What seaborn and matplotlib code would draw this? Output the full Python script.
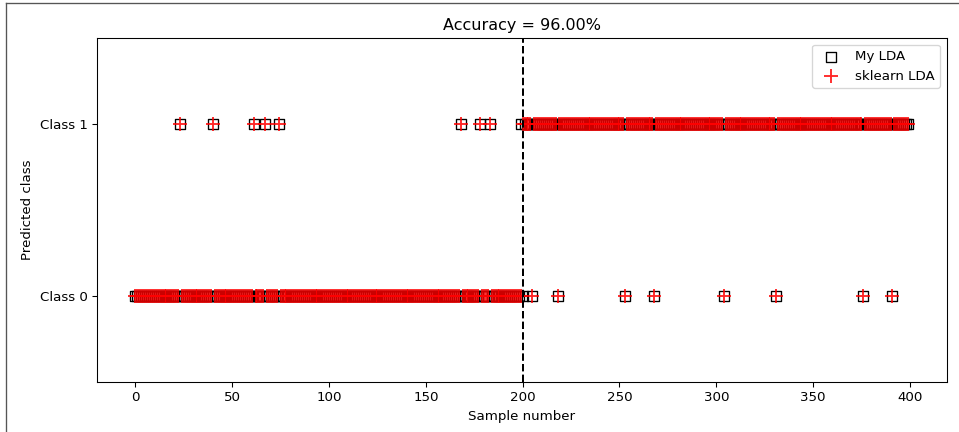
import numpy as np
import matplotlib
matplotlib.use("Agg")
import matplotlib.pyplot as plt
import seaborn as sns
from matplotlib.lines import Line2D

# samples 0..399, first half class 0, second half class 1
n_samples = 400
boundary = 200
class_labels = ["Class 0", "Class 1"]

# samples whose prediction differs from the true class
my_lda_wrong = [23, 40, 61, 67, 74, 168, 178, 183, 199,
                200, 205, 218, 253, 268, 304, 331, 376, 391]
sklearn_wrong = [23, 40, 61, 67, 74, 168, 178, 183,
                 205, 218, 253, 268, 304, 331, 376, 391]
accuracy = 96.00

samples = np.arange(n_samples)
true_class = (samples >= boundary).astype(int)
my_pred = true_class.copy()
my_pred[my_lda_wrong] = 1 - my_pred[my_lda_wrong]
sk_pred = true_class.copy()
sk_pred[sklearn_wrong] = 1 - sk_pred[sklearn_wrong]

fig, ax = plt.subplots(figsize=(9.99, 4.5), dpi=96)
fig.subplots_adjust(left=0.101, right=0.987, top=0.912, bottom=0.116)

sns.scatterplot(x=samples, y=my_pred, marker="s", s=56, facecolors="none",
                edgecolor="black", linewidth=1.0, label="My LDA", ax=ax)
sns.scatterplot(x=samples, y=sk_pred, marker="+", s=120, color="red",
                linewidth=1.4, alpha=0.85, label="sklearn LDA", ax=ax)
ax.axvline(boundary, color="black", linestyle="--", linewidth=1.5)

ax.set_yticks([0, 1])
ax.set_yticklabels(class_labels)
ax.set_ylim(-0.5, 1.5)
ax.set_xlabel("Sample number")
ax.set_ylabel("Predicted class")
ax.set_title(f"Accuracy = {accuracy:.2f}%", fontsize=12)
ax.legend(loc="upper right")

# screenshot frame lines
fig.add_artist(Line2D([0.006, 0.006], [0, 0.992], color="#555555", lw=1))
fig.add_artist(Line2D([0.006, 1], [0.992, 0.992], color="#555555", lw=1))

fig.savefig("out.png", dpi=96)
